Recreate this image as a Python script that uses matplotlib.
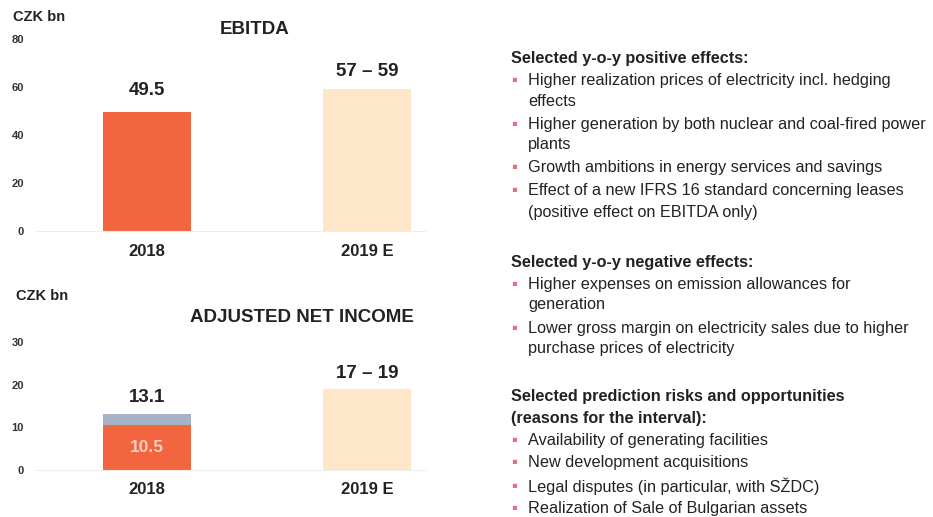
import matplotlib.pyplot as plt

plt.rcParams['font.family'] = ['Liberation Sans', 'DejaVu Sans']

# Data
categories = ['2018', '2019 E']
ebitda_2018 = 49.5
ebitda_2019 = (57, 59)
ani_2018_base = 10.5
ani_2018_total = 13.1
ani_2019 = (17, 19)

ebitda_ticks = [0, 20, 40, 60, 80]
ani_ticks = [0, 10, 20, 30]

positive_effects = [
    ["Higher realization prices of electricity incl. hedging", "effects"],
    ["Higher generation by both nuclear and coal-fired power", "plants"],
    ["Growth ambitions in energy services and savings"],
    ["Effect of a new IFRS 16 standard concerning leases",
     "(positive effect on EBITDA only)"],
]
negative_effects = [
    ["Higher expenses on emission allowances for", "generation"],
    ["Lower gross margin on electricity sales due to higher",
     "purchase prices of electricity"],
]
risks = [
    ["Availability of generating facilities"],
    ["New development acquisitions"],
    ["Legal disputes (in particular, with SŽDC)"],
    ["Realization of Sale of Bulgarian assets"],
]

W, H = 933, 517
c_actual = '#F2653F'
c_top = '#A7B2C6'
c_est = '#FDE6CA'
c_text = '#222222'
c_bullet = '#E4707E'

fig = plt.figure(figsize=(W / 100, H / 100), dpi=100)


def fx(x):
    return x / W


def fy(y):
    return 1 - y / H


def setup(ax, ticks):
    for s in ['top', 'right', 'left']:
        ax.spines[s].set_visible(False)
    ax.spines['bottom'].set_color('#eeeeee')
    ax.spines['bottom'].set_linewidth(0.8)
    ax.set_yticks(ticks)
    ax.set_yticklabels([str(t) for t in ticks], fontsize=8, fontweight='bold', color='#333333')
    ax.tick_params(axis='y', length=0, pad=8)
    ax.tick_params(axis='x', length=0, pad=9)
    ax.set_xticks([0, 1])
    ax.set_xticklabels(categories, fontsize=12, fontweight='bold', color=c_text)
    ax.set_xlim(-0.509, 1.264)


# EBITDA
ax1 = fig.add_axes([fx(35), fy(231), fx(390), fy(39) - fy(231)])
ax1.bar([0], [ebitda_2018], width=0.4, color=c_actual)
ax1.bar([1], [ebitda_2019[1]], width=0.4, color=c_est)
ax1.set_ylim(0, 80)
setup(ax1, ebitda_ticks)
ax1.text(0, ebitda_2018 + 5.6, f"{ebitda_2018}", ha='center', va='bottom', fontsize=13.5,
         fontweight='bold', color=c_text)
ax1.text(1, ebitda_2019[1] + 3.8, f"{ebitda_2019[0]} – {ebitda_2019[1]}", ha='center', va='bottom',
         fontsize=13.5, fontweight='bold', color=c_text, clip_on=False)
fig.text(fx(13), fy(17), "CZK bn", fontsize=10.5, fontweight='bold', color=c_text, va='center')
fig.text(fx(255), fy(30), "EBITDA", fontsize=13.5, fontweight='bold', color=c_text,
         ha='center', va='center')

# Adjusted net income
ax2 = fig.add_axes([fx(35), fy(470), fx(390), fy(342) - fy(470)])
ax2.bar([0], [ani_2018_base], width=0.4, color=c_actual)
ax2.bar([0], [ani_2018_total - ani_2018_base], bottom=[ani_2018_base], width=0.4, color=c_top)
ax2.bar([1], [ani_2019[1]], width=0.4, color=c_est)
ax2.set_ylim(0, 30)
setup(ax2, ani_ticks)
ax2.text(0, ani_2018_base / 2, f"{ani_2018_base}", ha='center', va='center', fontsize=12.5,
         fontweight='bold', color='#F8D2C0')
ax2.text(0, ani_2018_total + 2.0, f"{ani_2018_total}", ha='center', va='bottom', fontsize=13.5,
         fontweight='bold', color=c_text)
ax2.text(1, ani_2019[1] + 1.6, f"{ani_2019[0]} – {ani_2019[1]}", ha='center', va='bottom',
         fontsize=13.5, fontweight='bold', color=c_text, clip_on=False)
fig.text(fx(16), fy(296), "CZK bn", fontsize=10.5, fontweight='bold', color=c_text, va='center')
fig.text(fx(302), fy(317), "ADJUSTED NET INCOME", fontsize=13.5, fontweight='bold',
         color=c_text, ha='center', va='center')

# Right-hand text
x_head = 511
x_bul = 514
x_txt = 528
lh = 21
fs = 11.7


def header(lines, y):
    for i, ln in enumerate(lines):
        fig.text(fx(x_head), fy(y + i * lh), ln, fontsize=fs, fontweight='bold',
                 color=c_text, va='center')
    return y + len(lines) * lh


def bullets(items, y, gap=2):
    for item in items:
        fig.text(fx(x_bul), fy(y), "\u25aa", fontsize=12, color=c_bullet,
                 ha='center', va='center')
        for ln in item:
            fig.text(fx(x_txt), fy(y), ln, fontsize=fs, color=c_text, va='center')
            y += lh
        y += gap
    return y


header(["Selected y-o-y positive effects:"], 58)
bullets(positive_effects, 80)
header(["Selected y-o-y negative effects:"], 262)
bullets(negative_effects, 284)
header(["Selected prediction risks and opportunities", "(reasons for the interval):"], 397)
bullets(risks, 440, gap=2)

fig.savefig('out.png', dpi=100)
